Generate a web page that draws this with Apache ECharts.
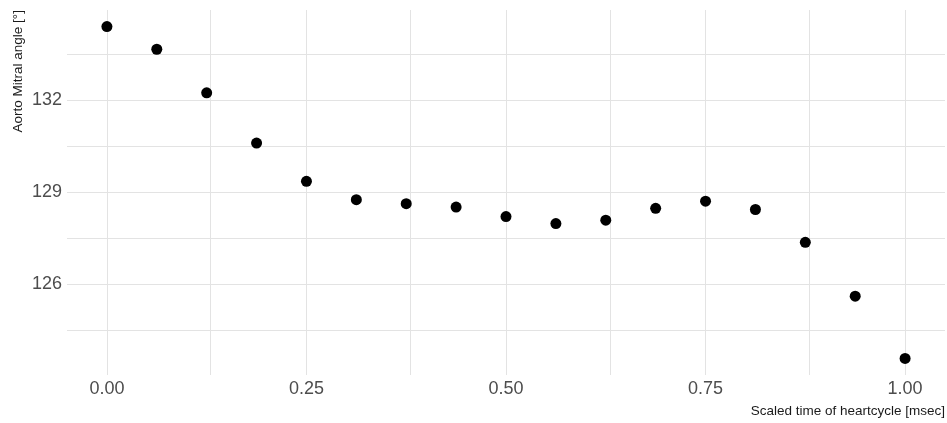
<!DOCTYPE html>
<html>
<head>
<meta charset="utf-8">
<script src="https://cdn.jsdelivr.net/npm/echarts@6/dist/echarts.min.js"></script>
<style>
  html, body { margin: 0; padding: 0; background: #fff; }
  #chart { width: 947px; height: 423px; }
</style>
</head>
<body>
<div id="chart"></div>
<script>
// Scaled time of the heart cycle and the aorto-mitral angle at each instant
const timeScaled = [0, 0.0625, 0.125, 0.1875, 0.25, 0.3125, 0.375, 0.4375, 0.5,
                    0.5625, 0.625, 0.6875, 0.75, 0.8125, 0.875, 0.9375, 1];
const angleDeg = [134.41, 133.67, 132.25, 130.61, 129.36, 128.76, 128.63, 128.52, 128.21,
                  127.98, 128.09, 128.48, 128.71, 128.44, 127.37, 125.61, 123.58];

// Axis ticks and grid lines
const xTicks = [0, 0.25, 0.5, 0.75, 1];
const xMinor = [0.125, 0.375, 0.625, 0.875];
const yTicks = [126, 129, 132];
const yMinor = [124.5, 127.5, 130.5, 133.5];

const xTitle = 'Scaled time of heartcycle [msec]';
const yTitle = 'Aorto Mitral angle [°]';

// panel limits padded by 5% of the data range on each side
const xMin = -0.05, xMax = 1.05;
const yLo = Math.min(...angleDeg), yHi = Math.max(...angleDeg);
const yPad = (yHi - yLo) * 0.05;

const FONT = '"Liberation Sans", Arial, sans-serif';
const GRID = '#e3e3e3';

const gridLines = []
  .concat(xTicks.map(v => ({ xAxis: v })))
  .concat(xMinor.map(v => ({ xAxis: v })))
  .concat(yTicks.map(v => ({ yAxis: v })))
  .concat(yMinor.map(v => ({ yAxis: v })));

const chart = echarts.init(document.getElementById('chart'), null, { renderer: 'canvas' });
chart.setOption({
  animation: false,
  backgroundColor: '#ffffff',
  grid: { left: 67, right: 2, top: 10, bottom: 48, containLabel: false },
  xAxis: {
    type: 'value',
    min: xMin, max: xMax,
    axisLine: { show: false },
    axisTick: { show: false },
    splitLine: { show: false },
    axisLabel: {
      customValues: xTicks,
      margin: 5,
      color: '#4d4d4d',
      fontFamily: FONT,
      fontSize: 18,
      formatter: v => v.toFixed(2)
    }
  },
  yAxis: {
    type: 'value',
    min: yLo - yPad, max: yHi + yPad,
    axisLine: { show: false },
    axisTick: { show: false },
    splitLine: { show: false },
    axisLabel: {
      customValues: yTicks,
      margin: 5,
      color: '#4d4d4d',
      fontFamily: FONT,
      fontSize: 18,
      formatter: v => String(v)
    }
  },
  graphic: [
    {
      type: 'text',
      right: 2, top: 404,
      style: { text: xTitle, fill: '#1a1a1a', font: '13.5px ' + FONT }
    },
    {
      type: 'text',
      x: 18, y: 10,
      rotation: Math.PI / 2,
      style: {
        text: yTitle, fill: '#1a1a1a', font: '13.5px ' + FONT,
        align: 'right', verticalAlign: 'middle'
      }
    }
  ],
  series: [
    {
      type: 'scatter',
      data: timeScaled.map((t, i) => [t, angleDeg[i]]),
      symbol: 'circle',
      symbolSize: 11,
      itemStyle: { color: '#000000', opacity: 1 },
      z: 5,
      markLine: {
        silent: true,
        symbol: ['none', 'none'],
        label: { show: false },
        lineStyle: { color: GRID, width: 1, type: 'solid' },
        emphasis: { disabled: true },
        data: gridLines,
        z: 1
      }
    }
  ]
});
</script>
</body>
</html>
